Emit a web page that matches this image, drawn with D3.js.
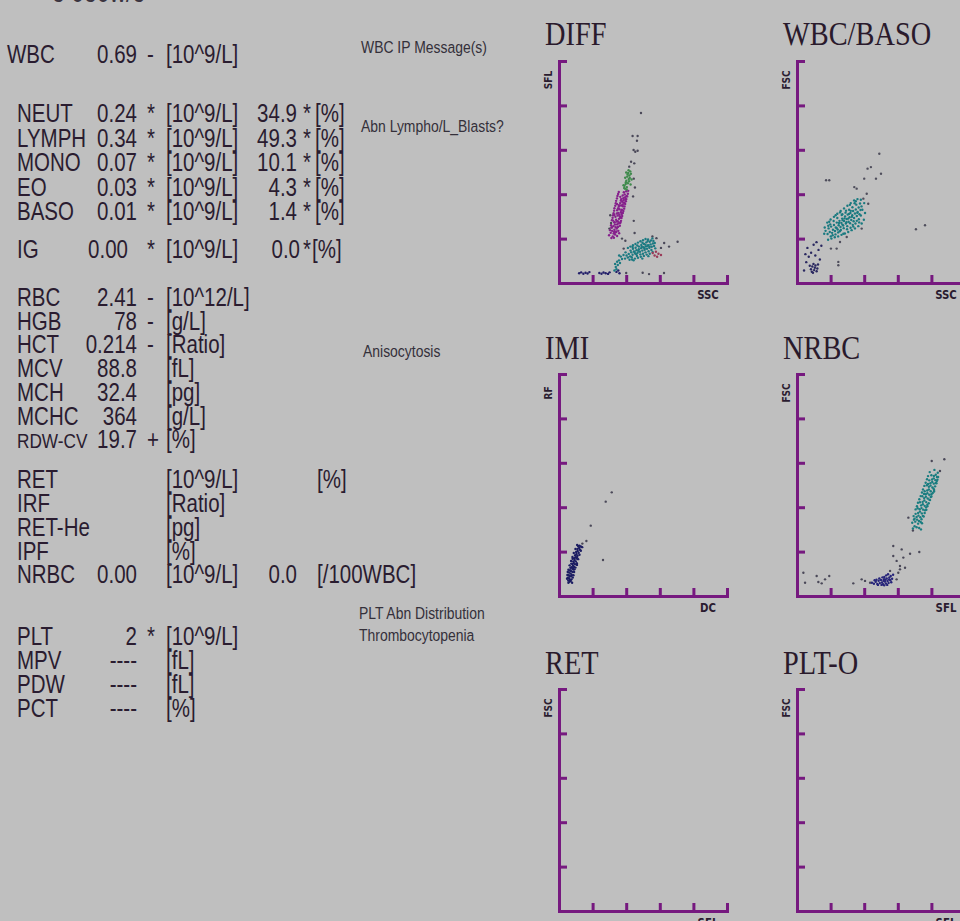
<!DOCTYPE html>
<html><head><meta charset="utf-8">
<script src="https://cdn.jsdelivr.net/npm/d3@7"></script>
<style>html,body{margin:0;padding:0;background:#bfbfbf;overflow:hidden}</style>
</head><body>
<svg id="c" width="960" height="921"></svg>
<script>
// ---------------- DATA ----------------
const wbcLabel = "WBC", wbcValue = "0.69", wbcFlag = "-", wbcUnit = "[10^9/L]";
const diffLabels = ["NEUT","LYMPH","MONO","EO","BASO"];
const diffAbs    = ["0.24","0.34","0.07","0.03","0.01"];
const diffPct    = ["34.9","49.3","10.1","4.3","1.4"];
const igLabel = "IG", igValue = "0.00", igPct = "0.0";
const rbcLabels = ["RBC","HGB","HCT","MCV","MCH","MCHC","RDW-CV"];
const rbcValues = ["2.41","78","0.214","88.8","32.4","364","19.7"];
const rbcFlags  = ["-","-","-","","","","+"];
const rbcUnits  = ["[10^12/L]","[g/L]","[Ratio]","[fL]","[pg]","[g/L]","[%]"];
const retLabels = ["RET","IRF","RET-He","IPF","NRBC"];
const retValues = ["","","","","0.00"];
const retUnits  = ["[10^9/L]","[Ratio]","[pg]","[%]","[10^9/L]"];
const retPct    = ["","","","","0.0"];
const retPctUnits = ["[%]","","","","[/100WBC]"];
const pltLabels = ["PLT","MPV","PDW","PCT"];
const pltValues = ["2","----","----","----"];
const pltFlags  = ["*","","",""];
const pltUnits  = ["[10^9/L]","[fL]","[fL]","[%]"];
const msgWbc = ["WBC IP Message(s)"];
const msgDiff = ["Abn Lympho/L_Blasts?"];
const msgRbc = ["Anisocytosis"];
const msgPlt = ["PLT Abn Distribution","Thrombocytopenia"];

const plotTitles  = ["DIFF","WBC/BASO","IMI","NRBC","RET","PLT-O"];
const plotXLabels = ["SSC","SSC","DC","SFL","SFL","SFL"];
const plotYLabels = ["SFL","FSC","RF","FSC","FSC","FSC"];
const axisTicks = [20,40,60,80,100];

// scatter data (channel units 0-100)
const diffLymph = [[32.0,21.0],[32.5,22.3],[33.4,21.8],[31.6,23.5],[33.0,24.0],[34.1,23.2],[32.4,25.6],[33.8,25.1],[34.6,26.4],[33.1,27.2],[35.0,27.8],[34.0,28.5],[35.7,28.9],[33.6,29.8],[34.9,30.4],[36.2,30.1],[35.3,31.6],[36.8,31.9],[34.6,32.8],[36.0,33.2],[37.4,33.0],[35.6,34.4],[36.9,34.9],[38.0,34.6],[36.4,36.0],[37.6,36.6],[38.7,36.2],[37.0,37.8],[38.3,38.2],[39.5,37.7],[37.9,39.4],[39.1,39.9],[40.2,39.2],[38.6,40.9],[40.0,41.3],[33.2,22.6],[32.8,23.1],[34.4,24.5],[33.3,26.3],[35.4,26.9],[34.3,27.7],[36.4,29.4],[35.9,30.9],[37.1,32.6],[35.1,33.6],[37.9,35.4],[36.8,37.1],[39.4,38.6],[38.4,37.3],[31.2,20.3],[32.7,20.4],[33.9,22.9],[35.1,25.2],[36.5,27.4],[34.5,35.6],[37.3,31.1],[39.0,36.0],[31.4,25.0],[32.2,28.1],[33.0,30.6],
  [29.8,21.5],[34.6,21.2],[30.4,23.8],[35.3,23.5],[31.0,26.0],[36.2,25.8],[31.5,28.3],[36.9,28.0],[32.2,30.5],[37.6,30.2],[32.8,32.6],[38.3,32.4],[33.5,34.8],[39.0,34.5],[34.0,37.0],[39.8,36.8],[34.8,39.2],[40.6,39.0],[35.6,41.0],[41.2,41.5],[30.8,22.6],[35.8,22.4],[31.3,25.0],[36.4,27.0],[31.9,29.4],[37.2,29.3],[32.5,31.4],[38.0,31.5],[33.0,33.7],[38.8,33.5],[33.8,35.9],[39.4,35.6],[34.5,38.1],[40.1,37.8],[35.2,40.1],[41.0,40.2],[32.9,27.4],[34.4,31.3],[35.7,35.0],[36.5,38.8]];
const diffMono = [[39.3,42.5],[40.4,43.2],[39.7,44.6],[41.0,44.9],[40.1,46.1],[41.5,46.8],[40.6,47.9],[41.9,48.4],[41.2,49.6],[42.4,50.3],[39.8,45.4],[41.7,45.8],[39.0,43.8],[42.1,47.3],[40.8,48.9],[40.3,42.1],[41.4,50.8],[42.8,49.2],[38.4,44.0],[42.6,44.4],[39.4,47.4],[43.2,46.6],[38.8,42.8],[40.0,49.8]];
const diffNeut = [[40.2,12.4],[41.5,13.1],[42.3,12.0],[43.0,13.8],[43.8,12.7],[44.6,14.2],[45.3,13.3],[46.1,14.8],[46.8,13.6],[47.5,15.2],[48.2,14.1],[48.9,15.7],[49.6,14.6],[50.3,16.1],[51.0,15.0],[51.7,16.5],[52.4,15.4],[53.1,17.0],[53.8,15.9],[54.5,17.4],[55.2,16.3],[55.9,17.8],[56.6,16.7],[50.6,17.6],[52.0,18.3],[54.0,18.6],[49.0,17.1],[47.6,16.4],[45.6,15.9],[44.0,15.4],[51.5,13.8],[53.3,14.3],[55.0,14.9],[48.4,12.9],[46.4,12.2],[50.0,13.2],[42.6,14.6],[41.0,11.5],[39.3,11.0],[38.4,12.6],[37.5,10.8],[36.8,11.9],[54.8,19.2],[53.0,19.6],[57.3,15.6],[56.2,18.9],[52.7,16.8],[50.9,15.7],[49.3,16.3],[47.2,14.5],[45.0,14.0],[43.3,11.6],[35.7,10.2],[36.3,9.0],[34.6,9.6],[35.0,8.1],[33.8,7.2],[33.4,8.6],[34.2,6.2],[33.0,5.6],[35.8,12.4],
  [41.0,15.8],[42.5,16.4],[44.0,17.0],[45.5,17.6],[47.0,18.2],[48.5,18.8],[50.0,19.3],[51.5,19.8],[43.5,10.6],[45.2,11.0],[47.0,11.4],[48.7,11.8],[50.5,12.2],[52.2,12.8],[54.0,13.2],[55.7,14.0],[43.8,16.2],[46.6,16.9],[49.7,18.1],[52.8,18.9],[55.6,20.1],[44.4,10.2],[49.6,11.0],[53.2,12.1],[57.0,18.0],[46.0,13.0],[51.4,17.3],[53.9,16.4],[42.0,10.5],[39.6,13.8]];
const diffEos = [[55.8,13.5],[57.7,14.1],[60.7,12.6],[56.9,12.4],[59.2,13.2],[58.4,11.8]];
const diffOther = [[48.8,76.6],[43.8,66.2],[46.8,66.2],[46.4,64.1],[44.4,59.9],[45.4,59.1],[46.8,59.6],[42.9,54.6],[44.8,53.9],[41.8,52.4],[44.5,47.0],[45.2,43.0],[44.1,39.0],[30.5,30.5],[31.0,27.0],[30.0,24.5],[44.5,28.0],[45.0,22.5],[37.5,20.0],[38.5,15.5],[39.5,19.0],[62.6,18.0],[65.5,16.4],[70.6,18.6],[60.7,15.8],[58.0,20.2],[55.6,21.0],[49.8,4.6],[53.6,4.0],[62.5,4.5],[40.0,4.5]];
const diffDebris = [[12.0,4.4],[13.2,4.8],[14.5,4.2],[15.8,4.6],[17.0,4.3],[18.1,4.9],[24.0,4.5],[25.3,4.2],[26.5,4.7],[27.8,4.4],[29.2,4.1],[30.1,4.8],[34.2,5.0],[35.3,5.6],[36.0,4.4]];

const basoWbc = [[17.0,23.5],[18.2,22.1],[18.8,24.6],[19.5,23.0],[20.3,25.4],[20.9,22.6],[21.4,24.0],[22.0,26.1],[22.6,23.4],[23.1,25.0],[23.7,27.2],[24.2,24.1],[24.8,26.0],[25.3,28.0],[25.9,25.2],[26.4,27.1],[26.9,29.0],[27.5,25.9],[28.0,27.9],[28.6,30.0],[29.1,26.8],[29.6,28.8],[30.2,30.8],[30.7,27.6],[31.3,29.6],[31.8,31.5],[32.3,28.4],[32.9,30.5],[33.4,32.4],[34.0,29.3],[34.5,31.3],[35.0,33.1],[35.6,30.2],[36.1,32.0],[36.7,34.0],[37.2,31.0],[37.8,32.9],[38.4,34.5],[38.9,33.0],[26.1,23.9],[27.8,24.7],[29.9,25.6],[31.6,26.9],[33.7,27.8],[24.0,29.3],[26.6,30.6],[28.9,31.7],[31.0,33.0],[33.0,34.1],[35.3,35.3],[21.8,27.9],[19.8,26.4],[22.9,21.9],[20.1,21.0],[36.8,28.7],[34.8,26.8],[30.5,29.0],[27.2,28.3],[25.0,27.0],[29.4,27.4],[32.7,29.8],[35.9,31.6],[28.3,29.1],[30.9,31.1],[23.6,24.8],[24.5,22.8],[27.0,26.3],[32.0,32.5],[37.5,35.8],[38.0,30.4],[18.6,25.8],[16.2,22.2],[25.6,31.8],[34.3,35.9],[33.2,26.2],
  [18.5,19.5],[20.5,20.0],[22.5,20.6],[24.5,21.0],[26.5,21.7],[28.5,22.3],[30.5,23.0],[32.5,23.8],[34.5,24.6],[36.5,25.6],[38.5,26.8],[18.0,27.2],[20.0,28.6],[22.0,29.8],[24.0,31.2],[26.0,32.4],[28.0,33.6],[30.0,34.8],[32.0,36.0],[34.0,37.2],[36.0,37.8],[38.0,37.5],[40.0,36.0],[40.5,31.5],[39.8,28.5],[21.2,21.5],[25.5,23.3],[29.8,24.2],[33.5,25.4],[23.0,30.5],[27.0,31.0],[31.5,35.2],[35.0,36.8],[37.0,27.3],[19.2,27.6],[16.5,25.0],[27.6,22.2],[31.9,24.9],[35.6,28.0],[29.2,32.6]];
const basoOther = [[17.3,46.3],[19.2,46.3],[49.0,58.2],[44.0,52.2],[42.0,51.5],[50.0,49.2],[47.0,47.0],[40.0,47.0],[70.8,24.2],[76.2,26.0],[34.1,43.2],[35.5,42.5],[41.5,40.2],[39.5,38.0],[42.4,35.7],[38.5,24.5],[29.6,20.7],[25.6,18.5],[23.6,15.5],[24.6,9.5],[24.6,8.0],[20.2,15.5]];
const basoGhost = [[8.3,6.2],[9.1,7.4],[10.2,5.8],[11.0,7.9],[12.1,6.5],[9.8,8.6],[8.8,5.1],[11.7,5.3],[10.6,6.9],[12.5,8.3],[7.6,7.8],[9.5,4.6],[4.2,5.6],[5.5,9.4],[7.0,11.8],[8.4,13.6],[10.9,12.4],[12.8,14.9],[6.2,15.8],[9.9,17.2],[13.6,10.6],[14.5,16.8],[11.6,18.4],[5.0,13.0]];

const imiCells = [[6.0,8.0],[6.5,7.2],[7.1,8.9],[5.8,9.4],[6.9,10.1],[7.6,9.5],[7.2,11.2],[8.1,10.8],[6.6,11.6],[7.9,12.3],[8.6,11.9],[7.5,13.0],[8.3,13.6],[9.0,13.1],[8.0,14.4],[8.8,14.9],[9.5,14.3],[8.5,15.6],[9.3,16.2],[10.0,15.6],[9.0,17.0],[9.8,17.5],[10.5,16.9],[9.6,18.4],[10.4,18.9],[11.0,18.2],[10.2,19.8],[11.1,20.3],[11.7,19.5],[11.0,21.2],[12.0,21.6],[12.5,20.8],[12.1,22.7],[13.0,22.3],[5.5,7.0],[6.3,6.4],[7.4,7.5],[6.2,9.0],[8.4,12.6],[9.2,12.0],[7.3,14.6],[10.8,17.6],[11.5,22.4],[10.7,14.0],[8.1,16.8],[6.8,12.7],[5.2,8.2],[6.0,10.6],[7.0,6.8],[5.6,6.0],
  [5.0,9.5],[8.2,8.3],[5.6,11.8],[9.0,10.8],[6.3,13.8],[9.8,12.8],[7.2,15.8],[10.6,14.8],[8.0,17.6],[11.4,16.6],[8.8,19.4],[12.2,18.6],[9.8,21.2],[13.0,20.4],[10.8,23.0],[13.8,22.0],[4.8,7.8],[7.8,6.0],[5.2,10.8],[8.6,9.4]];
const imiOther = [[13.9,23.6],[16.3,24.8],[18.9,31.7],[27.8,42.5],[31.4,46.7],[26.2,16.2]];

const nrbcWbc = [[70.0,31.4],[71.2,31.0],[72.1,32.6],[70.4,33.5],[71.5,34.4],[72.6,33.8],[71.2,35.6],[72.3,36.2],[73.4,35.5],[72.1,37.4],[73.2,38.0],[74.3,37.2],[73.0,39.1],[74.1,39.6],[75.1,38.9],[73.9,40.8],[74.9,41.3],[76.0,40.6],[74.8,42.4],[75.8,43.0],[76.9,42.3],[75.7,44.1],[76.7,44.7],[77.8,43.9],[76.6,45.8],[77.6,46.3],[78.7,45.6],[77.5,47.5],[78.5,48.0],[79.6,47.2],[78.5,49.2],[79.5,49.7],[80.6,48.9],[79.4,50.8],[80.5,51.4],[81.4,50.6],[80.4,52.5],[81.4,53.0],[82.3,52.2],[81.5,54.1],[82.6,54.6],[83.3,53.6],[72.7,30.6],[73.6,33.3],[74.9,36.1],[76.3,38.6],[77.6,41.1],[78.8,43.4],[80.0,45.8],[81.3,48.3],[82.6,50.9],[70.6,37.0],[71.8,39.5],[73.2,42.2],[74.6,44.9],[76.0,47.2],[77.3,49.9],[78.7,52.1],[80.0,54.4],[83.8,55.5],[83.2,51.8],[69.6,34.4],[74.1,34.6],[76.8,39.9],[79.6,44.6],[81.6,47.1],[75.6,46.0],[78.0,50.5],
  [68.6,33.0],[74.4,32.8],[69.4,36.0],[75.4,35.8],[70.6,39.0],[77.0,38.8],[72.0,42.0],[78.4,41.8],[73.6,45.0],[80.0,44.8],[75.0,48.0],[81.6,47.8],[76.6,51.0],[83.0,50.8],[78.0,54.0],[84.0,53.6],[69.0,30.4],[73.8,30.0],[70.0,34.8],[76.0,37.4],[71.4,40.4],[77.6,40.4],[72.8,43.6],[79.2,43.2],[74.4,46.6],[80.8,46.4],[75.8,49.6],[82.2,49.4],[77.4,52.6],[83.6,52.4],[79.0,55.8],[81.8,56.8]];
const nrbcCells = [[44.6,6.0],[45.8,5.5],[46.9,6.4],[47.8,5.4],[48.6,6.9],[49.3,5.8],[50.0,7.2],[50.6,6.1],[51.2,5.3],[51.8,7.6],[52.3,6.5],[52.9,5.6],[53.4,7.9],[53.9,6.8],[54.5,5.9],[55.0,8.3],[55.5,7.1],[56.1,6.2],[52.0,8.6],[53.1,9.3],[54.2,9.8],[55.8,9.0],[50.9,8.4],[49.0,7.9],[47.3,7.3],[51.5,6.9],[52.6,7.3],[53.7,5.0],[54.8,7.5],[56.6,7.8],[48.2,5.0],[50.3,5.0],[51.9,4.8],[46.2,7.1],[57.2,9.6]];
const nrbcOther = [[80.2,60.8],[87.7,61.6],[85.1,56.3],[66.3,35.3],[55.4,11.3],[57.3,18.0],[59.3,15.8],[61.3,13.5],[62.3,21.0],[64.3,12.7],[63.3,17.3],[57.3,22.5],[61.3,12.0],[60.3,10.5],[67.3,19.0],[72.8,19.8],[59.3,7.5],[33.5,5.7],[38.5,7.5],[40.5,6.8],[43.5,6.0],[3.8,10.5],[4.8,6.0],[11.7,9.0],[12.7,6.3],[14.7,5.7],[16.7,7.5],[19.2,9.0],[69.0,29.5]];

// ---------------- DRAW ----------------
const svg = d3.select("#c");
svg.append("rect").attr("width",960).attr("height",921).attr("fill","#bfbfbf");

const INK = "#2a1c30", MSG = "#34303a";
const SX = 0.82;
function txt(x, y, s, size, anchor, color, sx) {
  if (!s) return;
  svg.append("text")
    .attr("transform", `translate(${x},${y}) scale(${sx || SX},1)`)
    .attr("text-anchor", anchor || "start")
    .attr("font-family", "Liberation Sans, Arial, sans-serif")
    .attr("font-size", size)
    .attr("fill", color || INK)
    .text(s);
}
const F = 25;
const C = {label:17, valueR:137, flag:147, unit:166, pctR:297, pctFlag:303, pctUnit:315};

// top clipped header
txt(52, 2, "o 0o0w/o", 28, "start", "#3a3440");

// WBC
txt(7, 63, wbcLabel, F); txt(C.valueR, 63, wbcValue, F, "end"); txt(C.flag, 63, wbcFlag, F); txt(C.unit, 63, wbcUnit, F);
// differential
diffLabels.forEach((l,i)=>{
  const y = 122 + i*24.6;
  txt(C.label, y, l, F); txt(C.valueR, y, diffAbs[i], F, "end"); txt(C.flag, y, "*", F); txt(C.unit, y, "[10^9/L]", F);
  txt(C.pctR, y, diffPct[i], F, "end"); txt(C.pctFlag, y, "*", F); txt(C.pctUnit, y, "[%]", F);
});
// IG
txt(C.label, 258, igLabel, F); txt(128, 258, igValue, F, "end"); txt(C.flag, 258, "*", F); txt(C.unit, 258, "[10^9/L]", F);
txt(300, 258, igPct, F, "end"); txt(303, 258, "*", F); txt(312, 258, "[%]", F);
// RBC
rbcLabels.forEach((l,i)=>{
  const y = 306 + i*23.7;
  txt(C.label, y, l, l === "RDW-CV" ? 21 : F); txt(C.valueR, y, rbcValues[i], F, "end"); txt(C.flag, y, rbcFlags[i], F); txt(C.unit, y, rbcUnits[i], F);
});
// RET block
retLabels.forEach((l,i)=>{
  const y = 488.3 + i*23.75;
  txt(C.label, y, l, F); txt(C.valueR, y, retValues[i], F, "end"); txt(C.unit, y, retUnits[i], F);
  txt(C.pctR, y, retPct[i], F, "end"); txt(317, y, retPctUnits[i], F);
});
// PLT block
pltLabels.forEach((l,i)=>{
  const y = 645 + i*24.1;
  txt(C.label, y, l, F); txt(C.valueR, y, pltValues[i], F, "end"); txt(C.flag, y, pltFlags[i], F); txt(C.unit, y, pltUnits[i], F);
});
// messages
const MF = 17;
msgWbc.forEach((m,i)=>txt(361, 53 + i*21, m, MF, "start", MSG));
msgDiff.forEach((m,i)=>txt(361, 132 + i*21, m, MF, "start", MSG));
msgRbc.forEach((m,i)=>txt(363, 357 + i*21, m, MF, "start", MSG));
msgPlt.forEach((m,i)=>txt(359, 619 + i*21.5, m, MF, "start", MSG));

// scatter plots
const AX = "#76197f";
const colX = [559, 797], rowTop = [61, 374, 689];
const PW = 168, PH = 222;
const titleBase = [45, 359, 674];
const series = [
  [[diffDebris,"#24206a"],[diffOther,"#4a4858"],[diffNeut,"#1c7a82"],[diffEos,"#9a3a58"],[diffLymph,"#86208c"],[diffMono,"#3f8a4c"]],
  [[basoGhost,"#2a2860"],[basoOther,"#4f4e5c"],[basoWbc,"#1a7a80"]],
  [[imiOther,"#4a4858"],[imiCells,"#1c1d62"]],
  [[nrbcOther,"#4a4858"],[nrbcCells,"#26247a"],[nrbcWbc,"#1a7d80"]],
  [],
  []
];
plotTitles.forEach((t,k)=>{
  const c = k % 2, r = Math.floor(k/2);
  const x0 = colX[c], top = rowTop[r], bot = top + PH;
  const x = d3.scaleLinear().domain([0,100]).range([x0, x0+PW]);
  const y = d3.scaleLinear().domain([0,100]).range([bot, top]);
  const g = svg.append("g");
  svg.append("text").attr("transform",`translate(${x0-14},${titleBase[r]}) scale(0.86,1)`)
    .attr("font-family","Liberation Serif, Times New Roman, serif").attr("font-size",33)
    .attr("fill","#2a1a2c").text(t);
  series[k].forEach(([pts,col])=>{
    g.selectAll(null).data(pts).enter().append("circle")
      .attr("cx",d=>x(d[0])).attr("cy",d=>y(d[1])).attr("r",1.2).attr("fill",col);
  });
  const xa = g.append("g").attr("transform",`translate(0,${bot})`)
    .call(d3.axisBottom(x).tickValues(axisTicks).tickSize(-8).tickSizeOuter(0).tickFormat(""));
  const ya = g.append("g").attr("transform",`translate(${x0},0)`)
    .call(d3.axisLeft(y).tickValues(axisTicks).tickSize(-8).tickSizeOuter(0).tickFormat(""));
  [xa, ya].forEach(a=>{
    a.select(".domain").attr("stroke",AX).attr("stroke-width",3).attr("stroke-linecap","square");
    a.selectAll(".tick line").attr("stroke",AX).attr("stroke-width",3);
  });
  svg.append("text").attr("transform",`translate(${x0-7},${top+19}) rotate(-90) scale(0.9,1)`)
    .attr("text-anchor","middle").attr("font-family","DejaVu Sans, sans-serif").attr("font-weight","bold")
    .attr("font-size",10).attr("fill","#2a1c30").text(plotYLabels[k]);
  svg.append("text").attr("transform",`translate(${x0+149},${bot+16}) scale(0.85,1)`)
    .attr("text-anchor","middle").attr("font-family","DejaVu Sans, sans-serif").attr("font-weight","bold")
    .attr("font-size",12).attr("fill","#2a1c30").text(plotXLabels[k]);
});
</script>
</body></html>
